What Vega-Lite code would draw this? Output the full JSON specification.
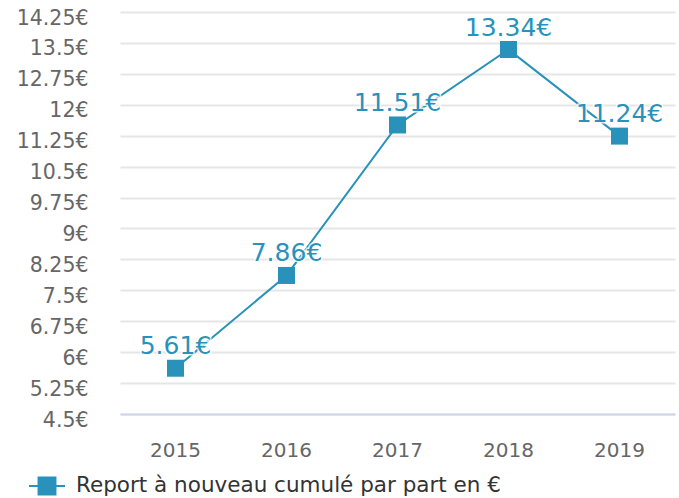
{
  "$schema": "https://vega.github.io/schema/vega-lite/v6.json",
  "width": 555,
  "height": 402,
  "autosize": "none",
  "padding": {"left": 120, "top": 12, "right": 4, "bottom": 84},
  "background": "white",
  "config": {
    "view": {"stroke": null},
    "font": "DejaVu Sans"
  },
  "data": {
    "values": [
      {"year": "2015", "value": 5.61, "label": "5.61€", "series": "Report à nouveau cumulé par part en €"},
      {"year": "2016", "value": 7.86, "label": "7.86€", "series": "Report à nouveau cumulé par part en €"},
      {"year": "2017", "value": 11.51, "label": "11.51€", "series": "Report à nouveau cumulé par part en €"},
      {"year": "2018", "value": 13.34, "label": "13.34€", "series": "Report à nouveau cumulé par part en €"},
      {"year": "2019", "value": 11.24, "label": "11.24€", "series": "Report à nouveau cumulé par part en €"}
    ]
  },
  "encoding": {
    "x": {
      "field": "year",
      "type": "ordinal",
      "scale": {"type": "band", "paddingInner": 0, "paddingOuter": 0},
      "axis": {
        "title": null,
        "labelAngle": 0,
        "ticks": false,
        "grid": false,
        "domainColor": "#ccd6eb",
        "domainWidth": 2,
        "labelColor": "#666666",
        "labelFontSize": 20,
        "labelPadding": 26,
        "labelFont": "DejaVu Sans"
      }
    },
    "y": {
      "field": "value",
      "type": "quantitative",
      "scale": {"domain": [4.5, 14.25], "nice": false, "zero": false},
      "axis": {
        "title": null,
        "values": [4.5, 5.25, 6, 6.75, 7.5, 8.25, 9, 9.75, 10.5, 11.25, 12, 12.75, 13.5, 14.25],
        "labelExpr": "datum.value + '€'",
        "ticks": false,
        "domain": false,
        "gridColor": "#e6e6e6",
        "gridWidth": 2,
        "labelColor": "#666666",
        "labelFontSize": 20.5,
        "labelPadding": 32,
        "labelOffset": 6,
        "labelFont": "DejaVu Sans"
      }
    }
  },
  "layer": [
    {
      "mark": {"type": "line", "strokeWidth": 2},
      "encoding": {
        "color": {
          "field": "series",
          "type": "nominal",
          "scale": {"range": ["#2892bb"]},
          "legend": {
            "title": null,
            "orient": "none",
            "legendX": -92,
            "legendY": 455,
            "padding": 0,
            "symbolType": "M-1,0H1M-0.47,-0.47H0.47V0.47H-0.47Z",
            "symbolSize": 1296,
            "symbolStrokeWidth": 2,
            "symbolFillColor": "#2892bb",
            "symbolStrokeColor": "#2892bb",
            "labelFontSize": 21.5,
            "labelColor": "#333333",
            "labelFont": "DejaVu Sans",
            "labelOffset": 10,
            "labelLimit": 0
          }
        }
      }
    },
    {
      "mark": {"type": "point", "shape": "square", "filled": true, "size": 289, "opacity": 1, "color": "#2892bb"}
    },
    {
      "mark": {"type": "text", "dy": -22, "fontSize": 25, "font": "DejaVu Sans", "stroke": "white", "strokeWidth": 3, "strokeOpacity": 0.8, "fill": "white"},
      "encoding": {"text": {"field": "label", "type": "nominal"}}
    },
    {
      "mark": {"type": "text", "dy": -22, "fontSize": 25, "font": "DejaVu Sans", "color": "#2892bb"},
      "encoding": {"text": {"field": "label", "type": "nominal"}}
    }
  ]
}
